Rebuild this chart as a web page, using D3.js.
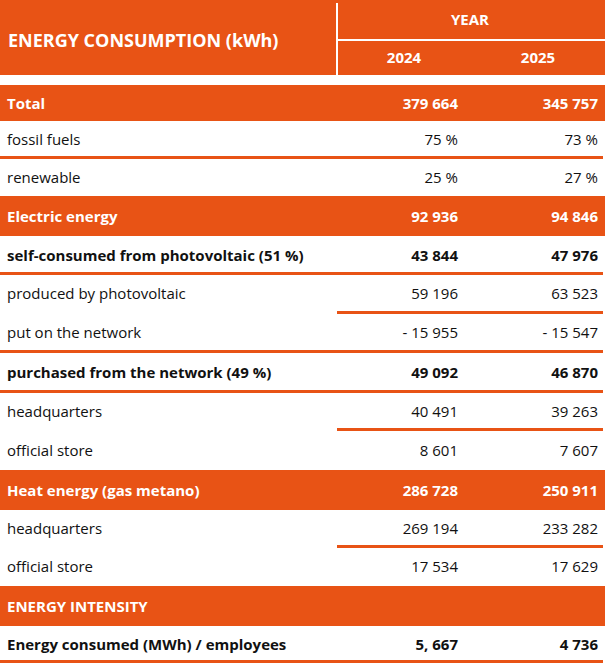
<!DOCTYPE html>
<html><head><meta charset="utf-8">
<script src="https://cdn.jsdelivr.net/npm/d3@7"></script>
<style>body{margin:0;background:#fff}</style>
</head><body><div class="canvas"></div>
<script>
// row data
const labels = ['Total', 'fossil fuels', 'renewable', 'Electric energy',
  'self-consumed from photovoltaic (51 %)', 'produced by photovoltaic', 'put on the network',
  'purchased from the network (49 %)', 'headquarters', 'official store',
  'Heat energy (gas metano)', 'headquarters', 'official store',
  'ENERGY INTENSITY', 'Energy consumed (MWh) / employees'];
const v2024 = ['379 664', '75 %', '25 %', '92 936', '43 844', '59 196', '- 15 955',
  '49 092', '40 491', '8 601', '286 728', '269 194', '17 534', '', '5, 667'];
const v2025 = ['345 757', '73 %', '27 %', '94 846', '47 976', '63 523', '- 15 547',
  '46 870', '39 263', '7 607', '250 911', '233 282', '17 629', '', '4 736'];
// kind: h = orange header row, b = bold row, n = normal row
const kinds = ['h', 'n', 'n', 'h', 'b', 'n', 'n', 'b', 'n', 'n', 'h', 'n', 'n', 'h', 'b'];
// line under row: f = full, p = partial, '' = none
const lines = ['', 'f', '', '', 'f', 'p', 'f', 'f', 'p', '', '', 'p', '', '', 'f'];
const rowHeights = [36, 37, 38, 40, 38, 39, 39, 40, 38, 40, 40, 37, 39, 40, 36];
const years = ['2024', '2025'];

const W = 605, H = 666, orange = '#e85315';
const font = '"Open Sans", Roboto, sans-serif';

const svg = d3.select('.canvas').append('svg')
  .attr('width', W).attr('height', H)
  .style('font-family', font);

/* ----------- HEADER ----------- */
svg.append('rect').attr('x', 0).attr('y', 0).attr('width', W).attr('height', 75).attr('fill', orange);
svg.append('line').attr('x1', 337).attr('x2', 337).attr('y1', 3).attr('y2', 75)
  .attr('stroke', '#fff').attr('stroke-width', 2);
svg.append('line').attr('x1', 337).attr('x2', W).attr('y1', 40).attr('y2', 40)
  .attr('stroke', '#fff').attr('stroke-width', 2);
svg.append('text').attr('x', 8).attr('y', 47).attr('fill', '#fff')
  .attr('font-size', 18).attr('font-weight', 700).text('ENERGY CONSUMPTION (kWh)');
svg.append('text').attr('x', 470).attr('y', 25).attr('fill', '#fff').attr('text-anchor', 'middle')
  .attr('font-size', 15).attr('font-weight', 700).text('YEAR');

// column centre scale for years
const xCol = d3.scaleBand().domain(years).range([337, W]);
svg.selectAll('.yr').data(years).enter().append('text')
  .attr('x', d => xCol(d) + xCol.bandwidth() / 2).attr('y', 63)
  .attr('text-anchor', 'middle').attr('fill', '#fff')
  .attr('font-size', 15).attr('font-weight', 700).text(d => d);

/* ----------- ROWS ----------- */
const tops = [];
rowHeights.reduce((acc, h) => { tops.push(acc); return acc + h; }, 85);
const rows = labels.map((l, i) => ({ l, a: v2024[i], b: v2025[i], k: kinds[i], ln: lines[i], y: tops[i], h: rowHeights[i] }));

const g = svg.selectAll('.row').data(rows).enter().append('g')
  .attr('transform', d => `translate(0,${d.y})`);

g.filter(d => d.k === 'h').append('rect')
  .attr('width', W).attr('height', d => d.h).attr('fill', orange);

g.filter(d => d.ln).append('rect')
  .attr('x', d => d.ln === 'f' ? 0 : 337).attr('y', d => d.h - 2)
  .attr('width', d => d.ln === 'f' ? W - 2 : W - 339).attr('height', 3).attr('fill', orange);

const txt = (sel, x, anchor, f) => sel.append('text')
  .attr('x', x).attr('y', d => d.h / 2 + 5.5).attr('text-anchor', anchor)
  .attr('font-size', 15)
  .attr('font-weight', d => d.k === 'n' ? 400 : 700)
  .attr('fill', d => d.k === 'h' ? '#fff' : '#111')
  .text(f);

txt(g, 7, 'start', d => d.l);
txt(g, 458, 'end', d => d.a);
txt(g, 598, 'end', d => d.b);
</script></body></html>
